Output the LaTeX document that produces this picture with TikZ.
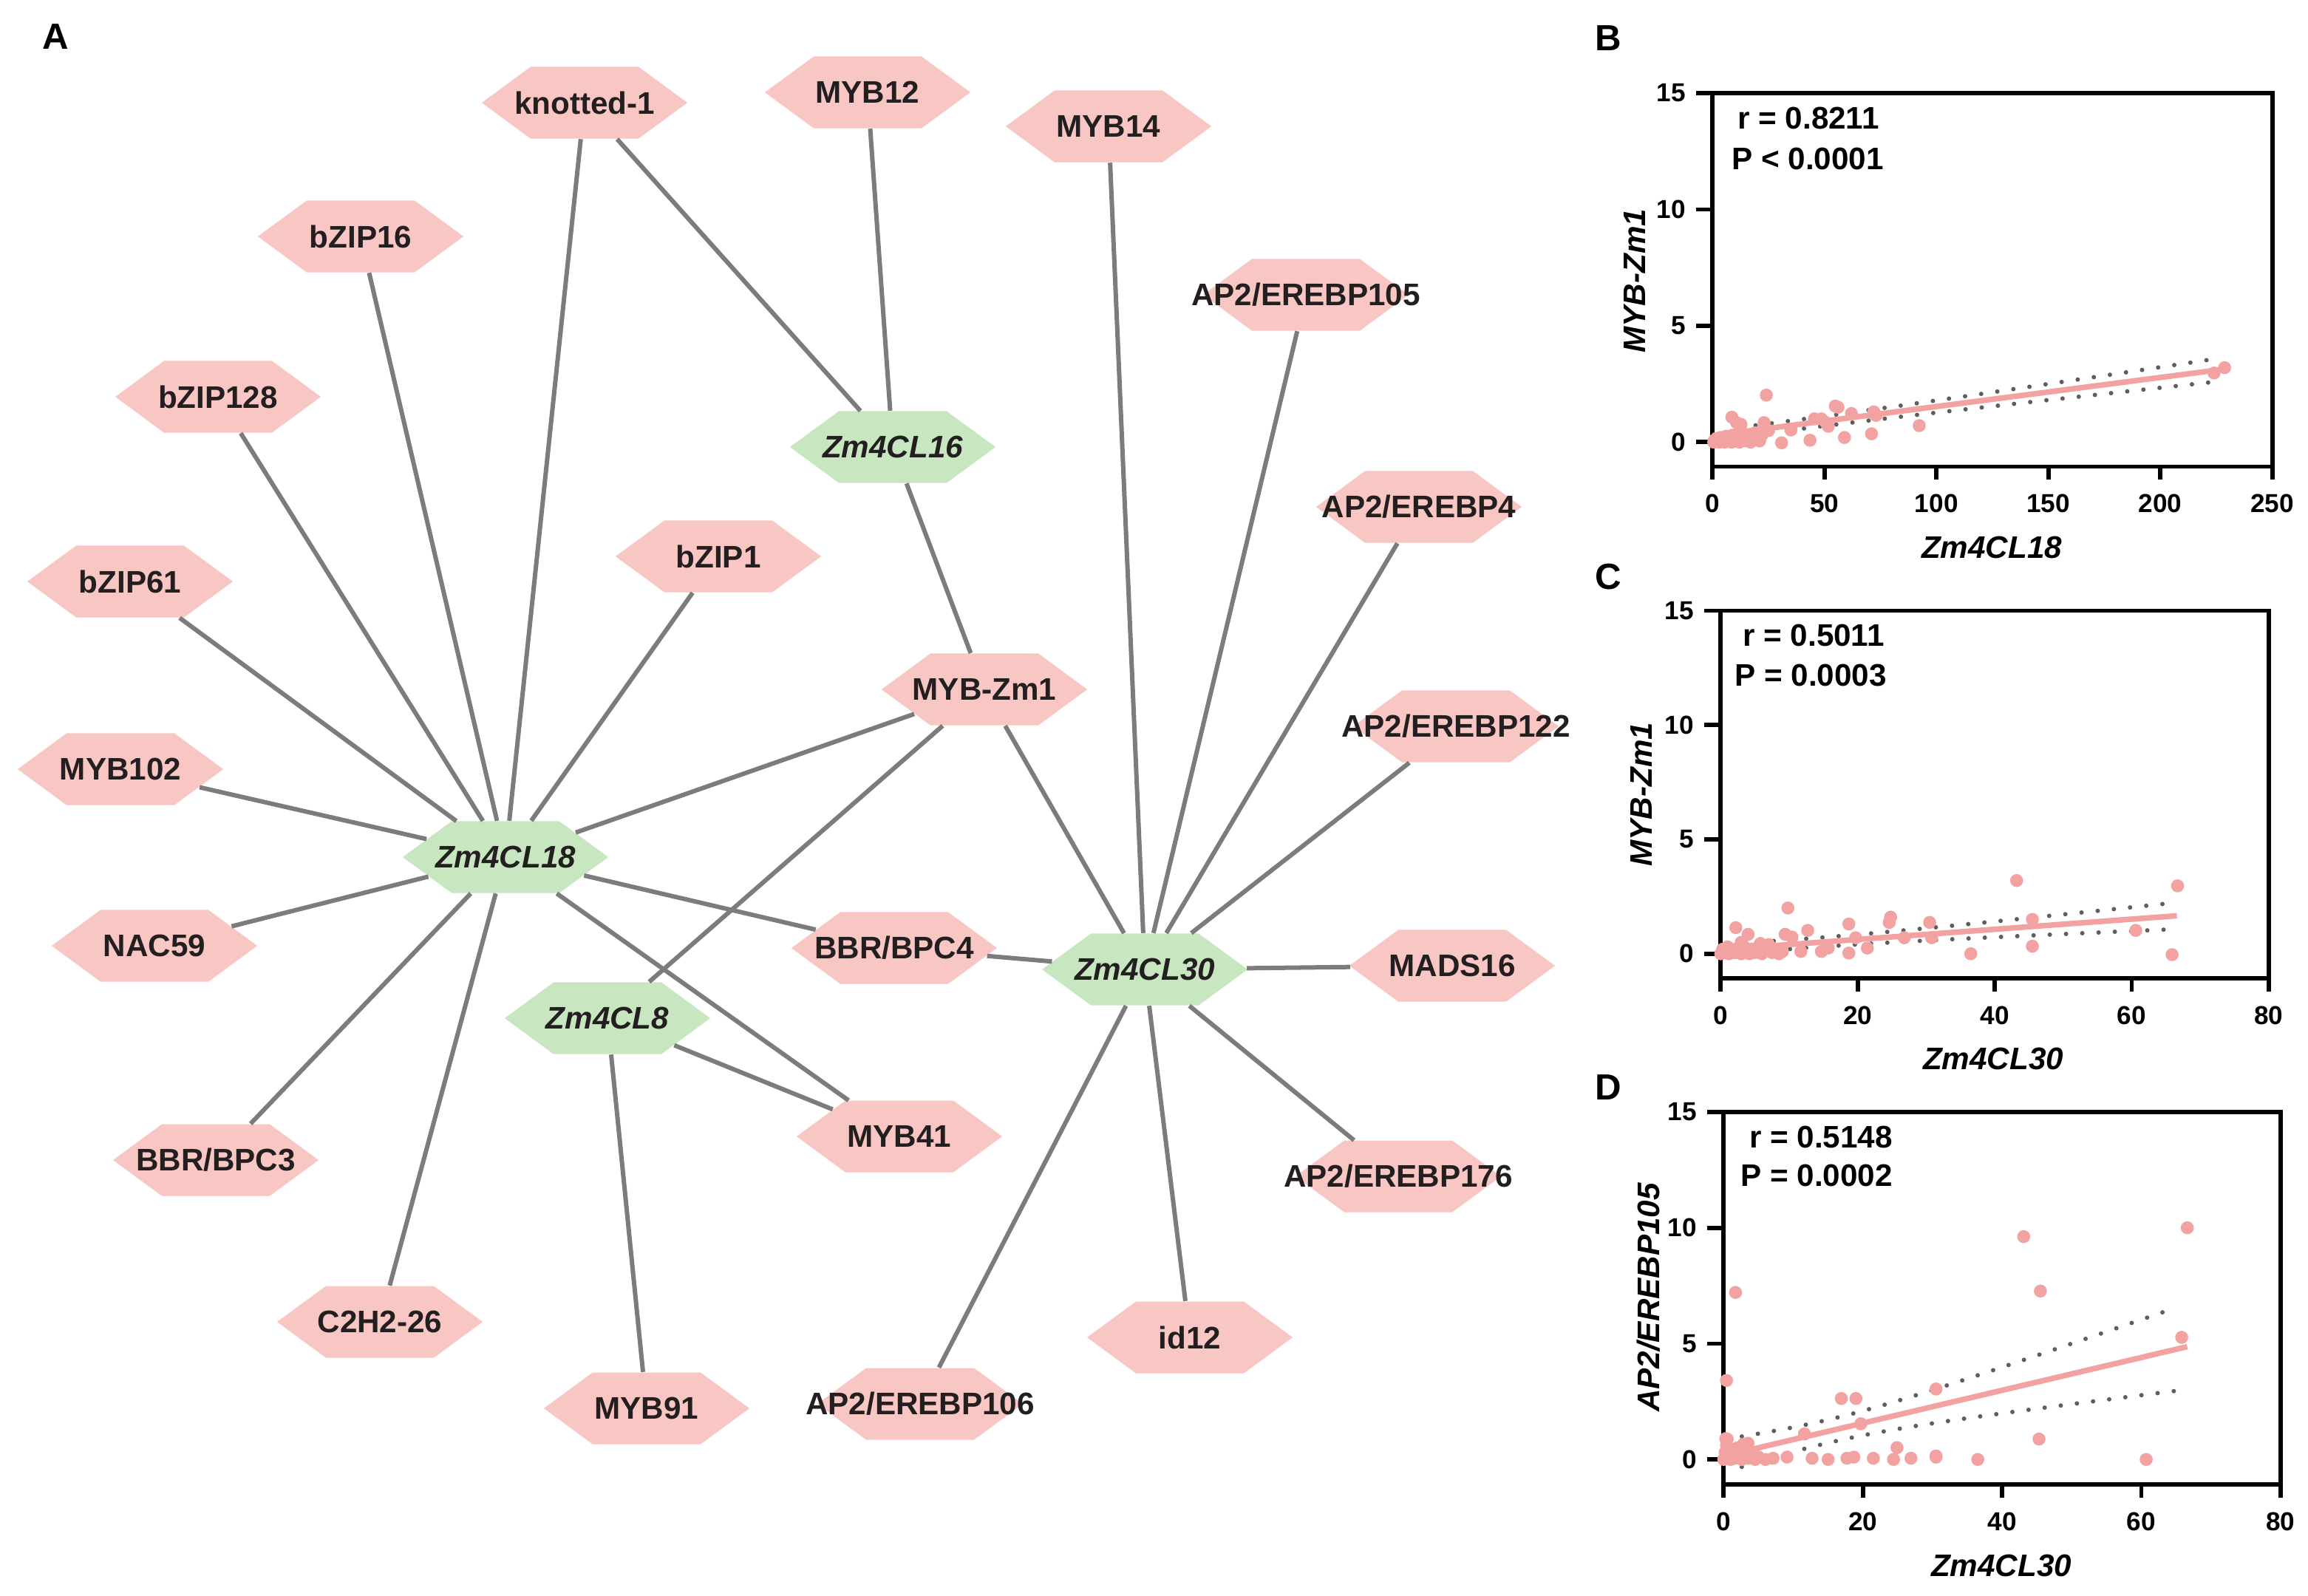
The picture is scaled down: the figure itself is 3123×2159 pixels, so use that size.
\documentclass[tikz,border=0pt]{standalone}
\usepackage{fontspec}
\setmainfont{Liberation Sans}
\usetikzlibrary{shapes.symbols}
\definecolor{pinkfill}{HTML}{F8C6C3}
\definecolor{greenfill}{HTML}{C8E7C1}
\definecolor{edgegray}{HTML}{7C7C7C}
\definecolor{dotpink}{HTML}{F3A2A2}
\definecolor{txt}{HTML}{231F20}
\definecolor{bandgray}{HTML}{5E5E5E}
\newcommand{\hexlabel}[1]{\makebox[0pt]{#1}}
\begin{document}
\begin{tikzpicture}[x=0.01cm,y=-0.01cm,
  font=\fontsize{12pt}{14pt}\selectfont\bfseries, text=txt,
  hexbase/.style={signal, signal to=west and east, signal pointer angle=72.6,
    minimum width=2.78cm, minimum height=0.97cm, inner sep=0pt},
  tf/.style={hexbase, fill=pinkfill},
  gene/.style={hexbase, fill=greenfill, font=\fontsize{12pt}{14pt}\selectfont\bfseries\itshape},
  edge/.style={draw=edgegray, line width=0.06cm},
  frame/.style={draw=black, line width=0.058cm},
  ticklab/.style={font=\fontsize{10pt}{12pt}\selectfont\bfseries, text=black},
  axlab/.style={font=\fontsize{12pt}{14pt}\selectfont\bfseries\itshape, text=black},
  stat/.style={font=\fontsize{12pt}{14pt}\selectfont\bfseries, text=black},
  panel/.style={font=\fontsize{14pt}{16pt}\selectfont\bfseries, text=black},
  reg/.style={draw=dotpink, line width=0.075cm},
  band/.style={draw=bandgray, line width=0.06cm, line cap=round, dash pattern=on 0pt off 0.22cm},
  pt/.style={fill=dotpink}
]
\useasboundingbox (0,0) rectangle (3123,2159);

% panel letters
\node[panel] (lA) at (75,50) {A};
\node[panel] (lB) at (2176,52) {B};
\node[panel] (lC) at (2176,781) {C};
\node[panel] (lD) at (2176,1472) {D};

% ---------- network nodes ----------
\node[tf] (knot) at (791,139) {\hexlabel{knotted-1}};
\node[tf] (myb12) at (1174,125) {\hexlabel{MYB12}};
\node[tf] (myb14) at (1500,171) {\hexlabel{MYB14}};
\node[tf] (b16) at (488,320) {\hexlabel{bZIP16}};
\node[tf] (b128) at (295,537) {\hexlabel{bZIP128}};
\node[tf] (ap105) at (1767,399) {\hexlabel{AP2/EREBP105}};
\node[gene] (z16) at (1208,605) {\hexlabel{Zm4CL16}};
\node[tf] (ap4) at (1920,686) {\hexlabel{AP2/EREBP4}};
\node[tf] (b61) at (176,787) {\hexlabel{bZIP61}};
\node[tf] (b1) at (972,753) {\hexlabel{bZIP1}};
\node[tf] (mybzm1) at (1332,933) {\hexlabel{MYB-Zm1}};
\node[tf] (ap122) at (1970,983) {\hexlabel{AP2/EREBP122}};
\node[tf] (m102) at (163,1041) {\hexlabel{MYB102}};
\node[gene] (z18) at (684,1160) {\hexlabel{Zm4CL18}};
\node[tf] (nac) at (209,1280) {\hexlabel{NAC59}};
\node[tf] (bbr4) at (1210,1283) {\hexlabel{BBR/BPC4}};
\node[gene] (z30) at (1549,1312) {\hexlabel{Zm4CL30}};
\node[tf] (mads) at (1965,1307) {\hexlabel{MADS16}};
\node[gene] (z8) at (822,1378) {\hexlabel{Zm4CL8}};
\node[tf] (myb41) at (1217,1538) {\hexlabel{MYB41}};
\node[tf] (bbr3) at (292,1570) {\hexlabel{BBR/BPC3}};
\node[tf] (ap176) at (1892,1592) {\hexlabel{AP2/EREBP176}};
\node[tf] (c2h2) at (514,1789) {\hexlabel{C2H2-26}};
\node[tf] (id12) at (1610,1810) {\hexlabel{id12}};
\node[tf] (myb91) at (875,1906) {\hexlabel{MYB91}};
\node[tf] (ap106) at (1245,1900) {\hexlabel{AP2/EREBP106}};

% ---------- edges ----------
\foreach \t in {b16,knot,b128,b61,b1,m102,nac,bbr3,c2h2,mybzm1,bbr4,myb41}
  \draw[edge] (z18) -- (\t);
\foreach \t in {mybzm1,myb41,myb91}
  \draw[edge] (z8) -- (\t);
\foreach \t in {knot,myb12,mybzm1}
  \draw[edge] (z16) -- (\t);
\foreach \t in {mybzm1,myb14,ap105,ap4,ap122,mads,ap176,id12,ap106,bbr4}
  \draw[edge] (z30) -- (\t);

% ---------- panel B ----------
\begin{scope}[xshift=23.16cm, yshift=-5.98cm, x=0.03028cm, y=0.3147cm]
  \draw[frame] (0,15) -- (0,-1.05) -- (250,-1.05) -- (250,15) -- cycle;
  \foreach \v in {0,5,10,15} {
    \draw[frame] (0,\v) -- ++(-0.22cm,0);
    \node[ticklab, anchor=east] at ([xshift=-0.24cm]0,\v) {\v};
  }
  \foreach \v in {0,50,100,150,200,250} {
    \draw[frame] (\v,-1.05) -- ++(0,-0.18cm);
    \node[ticklab] at ([yshift=-0.5cm]\v,-1.05) {\v};
  }
  \draw[band] plot[domain=12:225, samples=40, smooth] (\x,{0.28+0.0125*\x+sqrt(0.04+0.051*((\x-25)/100)*((\x-25)/100))});
  \draw[band] plot[domain=12:225, samples=40, smooth] (\x,{0.28+0.0125*\x-sqrt(0.04+0.051*((\x-25)/100)*((\x-25)/100))});
  \draw[reg] (0,0.28) -- (228,3.13);
  \foreach \px/\py in {0.5/0,1/0.1,1.5/0.05,2/0.15,3/0,3.5/0.2,4/0.05,5/0.1,5.5/0,6/0.25,7/0.05,8/0.15,8.5/0,9/0.3,10/0.05,11/0.2,12/0,13/0.1,14/0.35,15/0.05,16/0.15,17/0,18/0.1,19/0.4,20/0.2,21/0.05,22/0.3,23/0.6,24/0.5,12/0.45,16/0.3,
    8.6/1.07,10.7/0.84,12.7/0.76,24/2.02,23/0.84,25/0.5,30.8/-0.03,35/0.52,43.5/0.08,45.5/1.0,48.6/1.0,50.7/0.84,51.7/0.68,54.8/1.55,56/1.5,58.9/0.2,62/1.23,71/0.36,72/1.3,73/1.15,92.3/0.71,228.7/3.2,224/2.97}
    \fill[pt] (\px,\py) circle (0.088cm);
\end{scope}
\node[axlab, rotate=90] (yB) at (2212,380) {MYB-Zm1};
\node[axlab] (xB) at (2695,741) {Zm4CL18};
\node[stat] (rB) at (2447,160) {r = 0.8211};
\node[stat] (pB) at (2446,215) {P < 0.0001};

% ---------- panel C ----------
\begin{scope}[xshift=23.27cm, yshift=-12.90cm, x=0.092625cm, y=0.3093cm]
  \draw[frame] (0,15) -- (0,-1.07) -- (80,-1.07) -- (80,15) -- cycle;
  \foreach \v in {0,5,10,15} {
    \draw[frame] (0,\v) -- ++(-0.22cm,0);
    \node[ticklab, anchor=east] at ([xshift=-0.24cm]0,\v) {\v};
  }
  \foreach \v in {0,20,40,60,80} {
    \draw[frame] (\v,-1.07) -- ++(0,-0.18cm);
    \node[ticklab] at ([yshift=-0.5cm]\v,-1.07) {\v};
  }
  \draw[band] plot[domain=3:65, samples=40, smooth] (\x,{0.18+0.0222*\x+sqrt(0.04+0.01*((\x-12)/1)*((\x-12)/100))});
  \draw[band] plot[domain=3:65, samples=40, smooth] (\x,{0.18+0.0222*\x-sqrt(0.04+0.01*((\x-12)/1)*((\x-12)/100))});
  \draw[reg] (0,0.18) -- (66.6,1.66);
  \foreach \px/\py in {0/0,0.3/0.2,0.6/0.05,1/0.3,1.2/0,1.5/0.15,2/0.05,2.5/0.25,3/0,3.3/0.35,3.8/0.1,4.2/0,4.5/0.2,5/0.05,5.5/0.3,6/0,6.5/0.15,7/0.4,7.5/0.05,8/0.2,8.5/0,9/0.1,3/0.5,5.8/0.45,
    2.2/1.14,4/0.85,9.8/2.0,9.4/0.85,10.4/0.73,12.7/1.02,11.7/0.1,14.7/0.1,15.7/0.25,18.7/1.3,18.7/0.03,19.7/0.7,21.4/0.25,24.8/1.6,24.6/1.37,26.8/0.7,30.5/1.37,30.8/0.7,36.5/0,43.2/3.2,45.5/1.5,45.5/0.33,60.6/1.02,65.9/-0.04,66.7/2.97}
    \fill[pt] (\px,\py) circle (0.088cm);
\end{scope}
\node[axlab, rotate=90] (yC) at (2221,1075) {MYB-Zm1};
\node[axlab] (xC) at (2697,1433) {Zm4CL30};
\node[stat] (rC) at (2454,860) {r = 0.5011};
\node[stat] (pC) at (2450,914) {P = 0.0003};

% ---------- panel D ----------
\begin{scope}[xshift=23.31cm, yshift=-19.74cm, x=0.094125cm, y=0.3133cm]
  \draw[frame] (0,15) -- (0,-1.09) -- (80,-1.09) -- (80,15) -- cycle;
  \foreach \v in {0,5,10,15} {
    \draw[frame] (0,\v) -- ++(-0.22cm,0);
    \node[ticklab, anchor=east] at ([xshift=-0.24cm]0,\v) {\v};
  }
  \foreach \v in {0,20,40,60,80} {
    \draw[frame] (\v,-1.09) -- ++(0,-0.18cm);
    \node[ticklab] at ([yshift=-0.5cm]\v,-1.09) {\v};
  }
  \draw[band] plot[domain=2.6:65, samples=40, smooth] (\x,{0.15+0.0709*\x+sqrt(0.25+0.119*((\x-15)/10)*((\x-15)/10))});
  \draw[band] plot[domain=2.6:66.6, samples=40, smooth] (\x,{0.15+0.0709*\x-sqrt(0.25+0.119*((\x-15)/10)*((\x-15)/10))});
  \draw[reg] (0,0.15) -- (66.6,4.87);
  \foreach \px/\py in {0/0,0.2/0.3,0.4/0.6,0.6/0.1,0.8/0.2,1/0,1.2/0.4,1.5/0.05,1.8/0.25,2/0.5,2.3/0.1,2.6/0,3/0.3,3.5/0.05,4/0.2,4.5/0,5/0.1,6/0,2.8/0.65,3.5/0.7,1.6/0.45,0.3/0.9,
    0.4/3.41,1.7/7.21,0.5/0.88,3.2/0.66,11.6/1.1,16.9/2.63,19/2.63,19.7/1.54,24.9/0.51,30.5/3.04,30.5/0.15,36.5/0,43.1/9.62,45.5/7.27,45.3/0.88,60.7/0,65.8/5.27,66.6/10.0,
    7.1/0.05,9.1/0.1,12.7/0.05,15/0,17.7/0.05,18.7/0.1,21.5/0.05,24.4/0,26.9/0.05,30.5/0.1}
    \fill[pt] (\px,\py) circle (0.088cm);
\end{scope}
\node[axlab, rotate=90] (yD) at (2231,1756) {AP2/EREBP105};
\node[axlab] (xD) at (2708,2119) {Zm4CL30};
\node[stat] (rD) at (2464,1539) {r = 0.5148};
\node[stat] (pD) at (2458,1591) {P = 0.0002};
\end{tikzpicture}
\end{document}
